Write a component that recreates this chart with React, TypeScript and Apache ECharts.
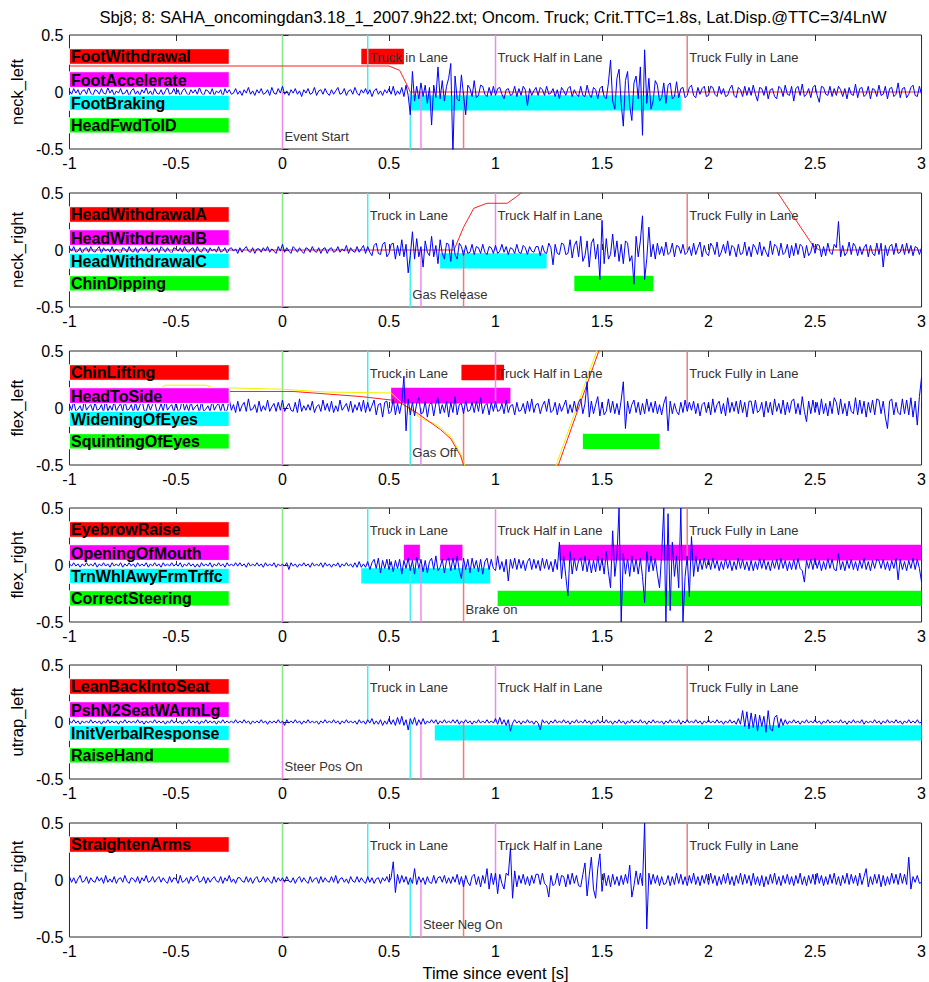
import { useEffect, useRef } from "react";
import * as echarts from "echarts";

const FONT = '"Liberation Sans", Arial, Helvetica, sans-serif';
const TITLE =
  "Sbj8; 8: SAHA_oncomingdan3.18_1_2007.9h22.txt; Oncom. Truck; Crit.TTC=1.8s, Lat.Disp.@TTC=3/4LnW";
const X_LABEL = "Time since event [s]";
const PANEL_NAMES = ["neck_left", "neck_right", "flex_left", "flex_right", "utrap_left", "utrap_right"];

const X_MIN = -1;
const X_MAX = 3;
const X_STEP = 0.5;
const Y_MIN = -0.5;
const Y_MAX = 0.5;
const Y_STEP = 0.5;

// sampled signals: first sample at t = -1 s, one sample every 0.01 s, values in hundredths
const SAMPLE_START = -1;
const SAMPLE_STEP = 0.01;
const VALUE_UNIT = 0.01;

const neckLeft = [
  1, -2, 3, -1, 2, -3, 1, 2, -2, 4, -1, -3, 2, 1, -2, 3, -1, -2, 4, -1,
  2, -3, 1, -1, 3, -2, -1, 2, -4, 1, 3, -2, 1, -3, 2, -1, 4, -2, 1, -3,
  3, -1, -2, 2, -3, 1, 4, -2, -1, 3, -2, 2, -4, 1, 3, -1, -3, 2, -1, 2,
  -2, 4, -1, -3, 2, 1, -2, 3, -3, 1, -1, 2, -4, 3, -1, 2, -2, -1, 3, -2,
  1, -3, 2, -1, 4, -2, 1, -3, 2, -1, 3, -2, -1, 2, -3, 4, -1, -2, 3, -1,
  5, -2, 1, -3, 2, -1, 3, -2, 1, -4, 2, -1, 3, -2, -1, 4, -3, 1, 2, -2,
  3, -1, -3, 2, -2, 1, 4, -2, -1, 3, -3, 1, 2, -2, 4, -1, -3, 2, -1, 3,
  -2, 2, -4, 1, 3, -2, 1, -3, 2, -1, 3, -2, 5, -3, 1, -2, 4, -4, 6, -3,
  -20, 18, -8, 5, -6, 8, -4, 6, -10, 4, -29, 6, -5, 22, -6, 10, -8, 5, 12, 25,
  -55, 14, -6, -8, 15, -3, -20, 6, 3, -4, 10, -5, -3, 6, 5, -2, -4, 4, -3, 5,
  -3, 3, 4, -2, -6, 2, 3, -3, -2, 5, -4, 3, -3, 5, 2, -12, 3, -3, 1, 4,
  -3, 4, 2, -3, 5, -2, -1, 3, -4, 2, -6, 4, 1, -3, 3, 5, -4, 2, -2, -4,
  5, -3, -4, 6, -2, -5, 4, 2, -6, 3, 5, -4, -6, 8, 28, -8, -15, 12, 20, -10,
  -30, 10, 18, -12, -25, 8, 14, -6, 22, -38, 37, -10, 12, -15, -8, 10, 6, -8, -5, 8,
  -10, 6, 8, -6, -4, 9, -5, 3, 4, -5, -3, 4, 6, -3, -5, 4, -2, 3, 5, -4,
  -3, 5, 4, -2, -4, 5, -2, 3, -4, -3, 3, 6, -3, -5, 4, 2, -4, 5, -3, 4,
  -3, 6, -2, -8, 4, 3, -3, 5, -6, 2, 3, -4, -6, 5, 3, -4, 6, -2, -3, 5,
  -8, 3, 5, -3, 7, -4, -2, 3, -5, 4, 6, -3, -9, 5, 4, -2, -3, 5, -4, 3,
  -3, 5, 2, -4, 3, -6, 4, -2, -3, 7, -5, 3, 4, -4, -2, 5, -6, 3, 2, -4,
  6, -3, -2, 5, -6, 3, 4, -4, -2, 8, -5, 3, 4, -5, -2, 4, 6, -3, -4, 5,
  -2,
];

const neckRight = [
  2, -1, 3, -2, -1, 2, -3, 1, 2, -2, 3, -1, -2, 1, 3, -3, 2, -1, 1, -2,
  3, -2, 1, -1, -3, 2, 1, -2, 3, -1, -2, 2, -3, 1, 2, -1, 3, -2, -1, 2,
  -1, 2, -3, 3, 1, -2, 2, -1, -3, 2, 1, -1, 2, -2, 3, -1, -2, 1, 2, -3,
  3, -1, -2, 2, 1, -3, 2, -1, 1, -2, 3, -2, -1, 2, -3, 1, 2, -1, 1, -3,
  2, -2, 1, 3, -1, -2, 2, -3, 1, 1, -2, 2, -1, 3, -2, 1, -1, -3, 3, -1,
  5, -2, 2, -1, -3, 3, 1, -2, 2, -1, -3, 2, 1, -2, 3, -1, -2, 2, -3, 1,
  2, -3, 1, 2, -2, -1, 3, -2, 1, -1, 4, -3, 2, -1, -2, 3, -2, 1, 4, -3,
  3, -2, -5, 4, 6, -3, -4, 5, 7, -6, -3, 5, 6, -8, 4, -5, 9, -6, 5, -20,
  -5, 16, -8, 10, -6, 3, -15, 8, -2, -5, 12, -6, 4, -12, 9, -3, -8, 6, 5, -10,
  9, -4, -8, 6, 3, -5, 4, -3, -2, 5, -4, 3, 2, -3, 5, -2, -4, 3, 2, -3,
  4, -3, -1, 5, -2, 3, -4, 2, 1, -3, 5, -2, -3, 4, 2, -4, 3, -1, -2, 3,
  3, -5, 4, -2, -3, 6, 2, -13, 5, -3, -4, 6, 5, -4, -3, 9, -7, 4, 8, -6,
  12, -10, -5, 8, -15, 6, 10, -8, 5, -26, 26, -12, 10, -8, -4, 14, -6, 8, -10, 5,
  -12, 8, 6, -10, -5, -30, 12, -6, 8, 30, -26, -8, 20, -6, 5, -8, 6, -4, 3, -5,
  7, -4, -2, 6, -6, 4, 3, -3, 5, -4, -2, 3, -5, 6, -4, 2, 7, -6, 4, -3,
  -5, 6, 3, -4, 7, -6, -2, 5, -3, 8, -5, 4, 2, -6, 5, -4, -3, 7, -5, 3,
  -6, 5, 2, -4, 7, -5, 3, -2, -6, 8, -4, 5, 3, -5, 6, -4, -2, 5, -7, 4,
  -5, 6, -4, 5, 3, -7, 4, -5, -2, 6, -3, 5, 4, -6, 3, -5, 6, -2, -4, 5,
  2, 25, -6, 4, -5, -2, 7, -4, 6, 3, -5, 3, -4, 2, 5, -6, 4, -3, -5, 6,
  -4, 6, -15, 4, -5, 3, 5, -4, 6, -3, -2, 5, -4, 6, -3, 4, -5, 3, 2, -4,
  2,
];

const flexLeft = [
  3, -2, 6, -3, -1, 2, -4, 7, -2, 1, 3, -3, 5, -2, -1, 3, -4, 8, -3, 2,
  -2, 6, -3, 1, 4, -3, 7, -2, -1, 3, -4, 5, -3, 2, 8, -2, -3, 4, -2, 3,
  6, -3, -2, 4, -3, 7, -2, 1, 3, -4, 5, -3, -1, 8, -2, 3, -3, 6, -2, 1,
  3, -4, 6, -3, -1, 2, -3, 7, -2, 2, 4, -3, 5, -3, -2, 8, -2, 3, -4, 6,
  -3, 2, 5, -3, 8, -2, -1, 3, -4, 6, -3, 2, -2, 7, -3, 1, 4, -3, 5, -2,
  7, -3, 1, 4, -2, -3, 5, -4, 8, -3, 2, -2, 3, -2, 6, -4, 1, 3, -3, 7,
  -2, 4, -3, 6, -4, 2, -3, 7, -2, 1, 4, -3, 6, -4, 3, -2, 5, -3, 7, -4,
  5, -3, 2, 7, -6, 3, 4, -8, 5, 6, -5, -3, 8, -6, 4, -5, 5, 28, -20, 8,
  -6, 5, -7, 4, 9, -5, -4, 6, -8, 3, 5, -7, 4, 9, -5, 3, -4, 6, -8, 5,
  -4, 10, -6, 3, 4, -5, 7, -3, -2, 5, -4, 6, -3, 9, -5, 2, 4, -6, 5, -3,
  6, -3, -2, 4, -5, 7, -4, 2, 3, -6, 5, -3, -2, 4, -5, 6, -3, 8, -4, 3,
  4, -5, 2, 6, -3, 8, -4, -2, 5, -6, 4, -3, 2, 7, -5, 3, -4, 6, -3, 5,
  8, -5, 4, 23, -8, 6, -5, 3, 10, -7, 5, -6, -3, 8, -4, 6, -5, 4, -6, 7,
  23, -18, 6, -5, 3, 7, -4, 5, -6, 4, -5, 8, -3, 5, -4, 6, -5, 3, -6, 4,
  10, -20, 6, -5, 4, -3, -6, 5, -4, 7, -3, 5, -2, 6, -5, 4, -7, 3, 5, -4,
  5, -6, 8, -4, 3, 6, -5, 4, -7, 9, -4, 5, -3, 6, -5, 7, -4, 5, -8, 6,
  6, -5, 7, -4, -2, 5, -8, 6, -4, 5, -6, 8, -3, 4, -5, 7, -6, 5, -4, 6,
  8, -5, 4, -6, 10, -3, -12, 6, -5, 7, -4, 5, -6, 8, -5, 4, -7, 6, -5, 9,
  5, -6, 8, -5, 4, -7, 6, -3, -5, 9, -6, 7, -5, 6, -8, 5, -4, 7, -6, 8,
  7, -5, 6, -8, -18, 6, 8, -6, 5, -4, -6, 8, -5, 7, -6, 9, -8, 6, -15, 10,
  27,
];

const flexRight = [
  1, -1, 2, -1, 1, -2, 1, -1, 2, -1, 1, -1, 2, -2, 1, -1, 2, -1, 1, -2,
  2, -1, 1, -1, 2, -2, 1, -1, 2, -1, 1, -2, 2, -1, 1, -1, 2, -2, 1, -1,
  2, -1, 1, -2, 2, -1, 1, -1, 2, -1, 1, -1, 2, -2, 1, -1, 2, -1, 1, -2,
  1, -2, 2, -1, 1, -1, 2, -2, 1, -1, 2, -1, 1, -2, 2, -1, 1, -1, 2, -1,
  2, -1, 1, -2, 2, -1, 1, -1, 2, -1, 1, -2, 2, -1, 1, -1, 2, -2, 1, -1,
  1, -1, 2, -4, 2, -1, 1, -2, 1, -1, 2, -1, 1, -2, 2, -1, 1, -1, 2, -2,
  2, -1, 1, -2, 1, -1, 2, -2, 1, -1, 2, -1, 1, -2, 2, -2, 3, -2, 1, -2,
  3, -4, 2, 5, -3, 6, -7, 4, -3, 5, -4, 3, -6, 4, -3, 5, -8, 4, -3, 6,
  -5, 4, -8, 7, -3, 5, -6, 4, -7, 3, 6, -4, 8, -5, -2, 5, -7, 4, 6, -5,
  6, -4, 8, -5, -12, 6, -4, 5, -7, 6, -3, 4, -6, 5, -8, 3, 6, -4, 5, -3,
  -5, 8, -4, 3, -6, 5, -14, 5, -3, 6, -4, 5, -3, 4, -5, 3, 6, -4, 5, -3,
  4, -5, 6, -3, 5, -4, 3, -6, 5, -4, 20, -12, 8, -10, -27, 12, -8, 6, -5, 4,
  6, -5, 8, -6, 5, -7, 4, -6, 8, -5, 6, -8, 12, -6, -20, 30, -10, 8, 50, -50,
  10, -8, 6, -10, 8, -6, 5, -8, 6, -10, -33, 12, -6, 8, -5, 6, -8, -20, 10, 50,
  -50, 45, -40, 20, -10, 8, -20, 50, -50, -10, 8, -28, 25, -10, 8, -6, 5, -4, 6, -3,
  5, -4, 6, -3, 4, -5, 3, -4, 6, -3, 4, -5, 3, -4, 6, -3, 5, -4, 3, -5,
  4, -5, 3, -4, 6, -3, 5, -4, 3, -5, 4, -3, 5, -4, 6, -3, 4, -5, 3, -4,
  5, -4, 6, -3, -5, -15, 4, -3, 5, -4, 6, -3, 4, -5, 3, -4, 6, -3, 5, -4,
  -5, 10, -4, 3, -5, 4, -3, 5, -4, 3, -5, 4, -3, 6, -4, 3, -5, 4, -3, 5,
  4, -3, 5, -4, 3, -5, 4, -3, 6, -13, 5, -4, 3, -5, 4, -3, 6, -4, 5, -3,
  -15,
];

const utrapLeft = [
  1, -1, 2, -1, 1, -2, 1, -1, 1, -1, 2, -1, 1, -1, 1, -2, 1, -1, 2, -1,
  1, -1, 1, -2, 1, -1, 2, -1, 1, -1, 1, -1, 2, -1, 1, -2, 1, -1, 1, -1,
  2, -1, 1, -1, 1, -2, 1, -1, 2, -1, 1, -1, 1, -2, 1, -1, 2, -1, 1, -1,
  1, -2, 1, -1, 2, -1, 1, -1, 1, -2, 1, -1, 2, -1, 1, -1, 1, -1, 2, -1,
  1, -1, 2, -1, 1, -2, 1, -1, 1, -1, 2, -1, 1, -2, 1, -1, 1, -1, 2, -1,
  1, -3, 2, -1, 1, -1, 2, -1, 1, -2, 1, -1, 2, -1, 1, -1, 1, -2, 1, -1,
  2, -1, 1, -1, 2, -1, 1, -2, 1, -1, 2, -1, 1, -1, 1, -2, 2, -1, 1, -2,
  2, -1, 3, -2, 1, -2, 2, -3, 1, -2, 3, -2, 2, -3, 4, -2, 5, -3, 2, -7,
  3, -2, 4, -3, 2, -2, 3, -2, 1, -1, 2, -1, 2, -2, 1, -1, 2, -1, 1, -1,
  2, -1, 2, -2, 1, -1, 2, -1, 1, -2, 1, -1, 2, -1, 1, -1, 2, -1, 1, -1,
  3, -2, 4, -2, 2, -3, 2, -8, -1, 2, -1, 1, -2, 1, -1, 2, -1, 1, -2, 1,
  -1, -7, 2, -1, 1, -2, 1, -1, 2, -1, 1, -1, 2, -1, 1, -2, 1, -1, 2, -1,
  1, -1, 2, -1, 1, -2, 1, -1, 2, -1, 1, -1, 2, -1, 1, -2, 1, -1, 2, -1,
  1, -2, 1, -1, 2, -1, 1, -1, 2, -1, 1, -2, 1, -1, 2, -1, 1, -1, 1, -2,
  1, -1, 2, -1, 1, -1, 2, -2, 1, -1, 2, -1, 1, -1, 2, -1, 1, -2, 1, -1,
  2, -1, 1, -1, 2, -1, 1, -2, 1, -1, 2, -1, 1, -2, 3, -2, 10, -4, 9, -6,
  8, -5, 7, -8, 6, -4, 5, -9, 10, -6, -8, 4, 6, -5, 3, -3, 2, -2, 1, -1,
  2, -1, 1, -2, 1, -1, 2, -1, 1, -1, 2, -1, 1, -2, 1, -1, 2, -1, 1, -1,
  1, -1, 2, -1, 1, -2, 1, -1, 2, -1, 1, -1, 2, -2, 1, -1, 1, -1, 2, -1,
  1, -2, 1, -1, 2, -1, 1, -1, 2, -1, 1, -2, 1, -1, 2, -1, 1, -1, 2, -1,
  0,
];

const utrapRight = [
  3, -2, 2, -3, 1, 4, -2, -1, 3, -3, 2, -1, -2, 3, -1, 2, -3, 4, -2, 1,
  -2, 3, -3, 1, 2, -2, 4, -1, -3, 2, 1, -2, 3, -3, 2, -1, 4, -2, -1, 3,
  -2, 1, 3, -2, 2, -1, -3, 3, -2, 2, 1, -3, 4, -2, -1, 2, -3, 3, -1, 2,
  4, -2, -1, 3, -3, 2, -2, 1, 3, -1, -2, 3, -3, 2, -1, 4, -2, 1, -3, 2,
  2, -1, -2, 3, -2, 2, -3, 1, 3, -2, -1, 3, -2, 2, -1, -3, 3, -2, 2, -1,
  2, -2, 3, -1, -2, 2, -3, 1, 3, -2, 2, -1, -3, 3, -2, 1, 2, -3, 3, -2,
  2, -1, -2, 3, -2, 4, -3, 1, 2, -2, 1, -3, 3, -1, -2, 3, -2, 2, -1, -3,
  3, -2, 2, -3, 1, 2, -3, 2, -1, 3, -2, 2, 16, -11, 5, -3, 4, -2, 3, -4,
  2, -3, 10, -4, 3, -2, 2, -4, 3, -2, -3, 4, -3, 2, 3, -2, 4, -3, 2, -3,
  3, -2, 5, -4, 3, -6, 4, -2, -5, 3, 5, -4, 3, -6, 4, -3, 10, -8, 6, -4,
  6, -12, 5, -3, -8, 6, 4, 28, -16, 8, -6, 4, -3, 5, -4, 3, -5, 4, -3, 5,
  5, -4, 6, -3, -5, -15, 4, -5, -3, 6, -5, 4, 3, -6, 5, -4, 6, -3, 4, -5,
  -6, 5, 15, -14, 4, 20, -8, -16, 10, 23, -10, 6, -5, 4, -6, 5, -4, 3, -5, 4,
  -4, 5, -3, 13, -15, -5, 8, -4, 6, -5, 50, -43, 6, -4, 5, -3, 4, -5, 3, -4,
  -3, 4, -5, 3, -4, 6, -3, 5, -4, 3, -5, 4, -3, 6, -4, 3, -5, 4, -3, 5,
  -4, 6, -3, 4, -5, 3, -4, 5, -3, 6, -4, 3, -5, 4, -3, 6, -4, 5, -3, 4,
  -5, 6, -4, 3, -5, 4, -6, 3, -4, 5, -3, 6, -4, 3, -5, 4, -3, 5, -4, 3,
  -5, 4, -3, 6, -4, 3, -5, 4, -3, 5, -4, 6, -3, 4, -5, 3, -4, 5, -3, 6,
  -4, 3, -5, 4, -3, 6, -4, 5, -3, 4, -5, 6, -4, 3, 10, -6, 3, -4, 5, -3,
  5, -6, 4, -5, 3, -4, 6, -3, 5, -4, 6, -3, 5, -4, 20, -8, 3, -2, 4, -3,
  -2,
];

const SIGNALS = [neckLeft, neckRight, flexLeft, flexRight, utrapLeft, utrapRight];

// filtered traces [t, value]
const neckLeftRed = [
  [-1, 0.228], [0.5, 0.228], [0.55, 0.19], [0.585, 0.06], [0.6, 0], [3, 0],
];
const neckRightRed = [
  [-1, 0], [0.805, 0], [0.85, 0.2], [0.898, 0.366], [0.96, 0.41], [1.055, 0.41],
  [1.1, 0.47], [1.12, 0.5], [1.2, 0.7], [2.2, 0.7], [2.326, 0.5], [2.4, 0.29],
  [2.49, 0.04], [2.52, 0], [3, 0],
];
const flexLeftYellow = [
  [-1, 0.175], [-0.57, 0.175], [-0.55, 0.2], [-0.36, 0.2], [-0.33, 0.18], [0, 0.165],
  [0.2, 0.14], [0.51, 0.132], [0.57, 0.03], [0.65, -0.09], [0.727, -0.15], [0.79, -0.25],
  [0.836, -0.4], [0.855, -0.5], [0.9, -0.8], [1.2, -0.8], [1.285, -0.5], [1.475, 0.5],
  [1.55, 0.8], [3, 0.8],
];
const flexLeftRed = [
  [-1, 0.145], [0.05, 0.145], [0.37, 0.1], [0.51, 0.07], [0.555, 0.045], [0.633, -0.045],
  [0.742, -0.19], [0.79, -0.27], [0.836, -0.42], [0.85, -0.5], [0.9, -0.8], [1.2, -0.8],
  [1.295, -0.5], [1.485, 0.5], [1.55, 0.8], [3, 0.8],
];
const TRACES: { data: number[][]; color: string }[][] = [
  [{ data: neckLeftRed, color: "#ff2020" }],
  [{ data: neckRightRed, color: "#ff2020" }],
  [
    { data: flexLeftYellow, color: "#f0f000" },
    { data: flexLeftRed, color: "#ff2020" },
  ],
  [],
  [],
  [],
];

// behaviour label rows
const ROW_TOP = [0.38, 0.178, -0.028, -0.225];
const ROW_BOTTOM = [0.243, 0.04, -0.162, -0.36];
const ROW_COLORS = ["#ff0000", "#ff00ff", "#00ffff", "#00ff00"];
const LABEL_END = -0.25;
const LABELS = [
  ["FootWithdrawal", "FootAccelerate", "FootBraking", "HeadFwdToID"],
  ["HeadWithdrawalA", "HeadWithdrawalB", "HeadWithdrawalC", "ChinDipping"],
  ["ChinLifting", "HeadToSide", "WideningOfEyes", "SquintingOfEyes"],
  ["EyebrowRaise", "OpeningOfMouth", "TrnWhlAwyFrmTrffc", "CorrectSteering"],
  ["LeanBackIntoSeat", "PshN2SeatWArmLg", "InitVerbalResponse", "RaiseHand"],
  ["StraightenArms"],
];

// coded behaviour episodes: [row, start, end]
const EVENTS = [
  [[0, 0.37, 0.57], [2, 0.605, 1.87]],
  [[2, 0.74, 1.24], [3, 1.37, 1.74]],
  [[0, 0.84, 1.04], [1, 0.51, 1.07], [3, 1.41, 1.77]],
  [[1, 0.57, 0.645], [1, 0.74, 0.845], [1, 1.3, 3], [2, 0.37, 0.975], [3, 1.01, 3]],
  [[2, 0.715, 3]],
  [],
];

// scenario markers
const MARKER_X = [0, 0, 0.4, 0.6, 0.65, 0.85, 1.0, 1.9];
const MARKER_Y_END = [0.5, -0.5, 0.5, -0.5, -0.5, -0.5, 0.5, 0.5];
const MARKER_COLORS = ["#88e888", "#f088f0", "#44eeee", "#44eeee", "#f088f0", "#f47a7a", "#f088f0", "#f47a7a"];
const TOP_NOTES = ["Truck in Lane", "Truck Half in Lane", "Truck Fully in Lane"];
const TOP_NOTE_X = [0.4, 1.0, 1.9];
const TOP_NOTE_Y = 0.3;
const BOTTOM_NOTES = ["Event Start", "Gas Release", "Gas Off", "Brake on", "Steer Pos On", "Steer Neg On"];
const BOTTOM_NOTE_X = [0, 0.6, 0.6, 0.85, 0, 0.65];
const BOTTOM_NOTE_Y = -0.39;

// layout
const GRID_TOPS = [35, 193, 351, 508, 665, 823];
const GRID_HEIGHT = 114;
const GRID_LEFT = 68;
const GRID_RIGHT = 7;

function textStyle(text: string, x: number, y: number, font: string, fill: string) {
  return {
    text,
    x,
    y,
    font,
    fill,
    align: "left",
    verticalAlign: "middle",
    textAlign: "left",
    textVerticalAlign: "middle",
  };
}

function buildOption() {
  const grid: any[] = [];
  const xAxis: any[] = [];
  const yAxis: any[] = [];
  const series: any[] = [];

  PANEL_NAMES.forEach((name, i) => {
    grid.push({
      left: GRID_LEFT,
      right: GRID_RIGHT,
      top: GRID_TOPS[i],
      height: GRID_HEIGHT,
      show: true,
      borderColor: "#2a2a2a",
      borderWidth: 1,
      backgroundColor: "#ffffff",
    });
    const isLast = i === PANEL_NAMES.length - 1;
    xAxis.push({
      type: "value",
      gridIndex: i,
      position: "bottom",
      min: X_MIN,
      max: X_MAX,
      interval: X_STEP,
      axisLine: { show: false },
      axisTick: { show: true, inside: true, length: 6, lineStyle: { color: "#2a2a2a" } },
      axisLabel: { fontSize: 16, color: "#000", margin: 6, fontFamily: FONT },
      splitLine: { show: false },
      name: isLast ? X_LABEL : "",
      nameLocation: "middle",
      nameGap: 27,
      nameTextStyle: { fontSize: 16.5, color: "#000", fontFamily: FONT },
    });
    xAxis.push({
      type: "value",
      gridIndex: i,
      position: "top",
      min: X_MIN,
      max: X_MAX,
      interval: X_STEP,
      axisLine: { show: false },
      axisTick: { show: true, inside: true, length: 6, lineStyle: { color: "#2a2a2a" } },
      axisLabel: { show: false },
      splitLine: { show: false },
    });
    yAxis.push({
      type: "value",
      gridIndex: i,
      min: Y_MIN,
      max: Y_MAX,
      interval: Y_STEP,
      axisLine: { show: false },
      axisTick: { show: true, inside: true, length: 6, lineStyle: { color: "#2a2a2a" } },
      axisLabel: { fontSize: 16, color: "#000", margin: 6, fontFamily: FONT },
      splitLine: { show: false },
      name,
      nameLocation: "middle",
      nameGap: 42,
      nameTextStyle: { fontSize: 16.5, color: "#000", fontFamily: FONT },
    });

    const xi = i * 2;

    // episode bars
    series.push({
      type: "custom",
      xAxisIndex: xi,
      yAxisIndex: i,
      z: 1,
      silent: true,
      data: EVENTS[i].map((e) => [e[1], e[2], e[0]]),
      renderItem: (_p: any, api: any) => {
        const s = api.value(0);
        const e = api.value(1);
        const r = api.value(2);
        const a = api.coord([s, ROW_TOP[r]]);
        const b = api.coord([e, ROW_BOTTOM[r]]);
        return {
          type: "rect",
          shape: { x: a[0], y: a[1], width: b[0] - a[0], height: b[1] - a[1] },
          style: { fill: ROW_COLORS[r] },
        };
      },
    });

    // scenario marker lines
    series.push({
      type: "custom",
      xAxisIndex: xi,
      yAxisIndex: i,
      z: 2,
      silent: true,
      data: MARKER_X.map((x, k) => [x, MARKER_Y_END[k]]),
      renderItem: (p: any, api: any) => {
        const x = api.value(0);
        const y = api.value(1);
        const a = api.coord([x, 0]);
        const b = api.coord([x, y]);
        return {
          type: "line",
          shape: { x1: a[0], y1: a[1], x2: b[0], y2: b[1] },
          style: { stroke: MARKER_COLORS[p.dataIndex], lineWidth: 1.5 },
        };
      },
    });

    // filtered traces
    TRACES[i].forEach((tr) => {
      series.push({
        type: "line",
        xAxisIndex: xi,
        yAxisIndex: i,
        z: 3,
        silent: true,
        clip: true,
        showSymbol: false,
        symbol: "none",
        data: tr.data,
        lineStyle: { width: 1, color: tr.color },
        itemStyle: { color: tr.color },
      });
    });

    // EMG signal
    series.push({
      type: "line",
      xAxisIndex: xi,
      yAxisIndex: i,
      z: 4,
      silent: true,
      clip: true,
      showSymbol: false,
      symbol: "none",
      data: SIGNALS[i].map((v, k) => [SAMPLE_START + k * SAMPLE_STEP, v * VALUE_UNIT]),
      lineStyle: { width: 1, color: "#0000ff" },
      itemStyle: { color: "#0000ff" },
    });

    // label boxes
    series.push({
      type: "custom",
      xAxisIndex: xi,
      yAxisIndex: i,
      z: 5,
      silent: true,
      data: LABELS[i].map((_, r) => [X_MIN, (ROW_TOP[r] + ROW_BOTTOM[r]) / 2]),
      renderItem: (p: any, api: any) => {
        const r = p.dataIndex;
        const a = api.coord([X_MIN, ROW_TOP[r]]);
        const b = api.coord([LABEL_END, ROW_BOTTOM[r]]);
        return {
          type: "group",
          children: [
            {
              type: "rect",
              shape: { x: a[0], y: a[1], width: b[0] - a[0], height: b[1] - a[1] },
              style: { fill: ROW_COLORS[r], stroke: "#ffffff", lineWidth: 1 },
            },
            {
              type: "text",
              style: textStyle(LABELS[i][r], a[0] + 1.5, (a[1] + b[1]) / 2 + 0.5, `bold 16px ${FONT}`, "#000"),
            },
          ],
        };
      },
    });

    // notes
    const notes = [...TOP_NOTES, BOTTOM_NOTES[i]];
    const noteData = [
      ...TOP_NOTE_X.map((x) => [x, TOP_NOTE_Y]),
      [BOTTOM_NOTE_X[i], BOTTOM_NOTE_Y],
    ];
    series.push({
      type: "custom",
      xAxisIndex: xi,
      yAxisIndex: i,
      z: 6,
      silent: true,
      data: noteData,
      renderItem: (p: any, api: any) => {
        const c = api.coord([api.value(0), api.value(1)]);
        return {
          type: "text",
          style: textStyle(notes[p.dataIndex], c[0] + 2, c[1], `13px ${FONT}`, "#333"),
        };
      },
    });
  });

  return {
    animation: false,
    backgroundColor: "#ffffff",
    grid,
    xAxis,
    yAxis,
    series,
    graphic: [
      {
        type: "text",
        x: 493,
        y: 17,
        style: {
          text: TITLE,
          font: `16.5px ${FONT}`,
          fill: "#000",
          align: "center",
          verticalAlign: "middle",
          textAlign: "center",
          textVerticalAlign: "middle",
        },
      },
    ],
  };
}

export default function App() {
  const ref = useRef<HTMLDivElement>(null);
  useEffect(() => {
    if (!ref.current) return;
    const chart = echarts.init(ref.current, undefined, { renderer: "svg" });
    chart.setOption(buildOption() as any);
    return () => {
      chart.dispose();
    };
  }, []);
  return (
    <div
      ref={ref}
      style={{ position: "absolute", left: 0, top: 0, width: 929, height: 982, background: "#fff" }}
    />
  );
}
